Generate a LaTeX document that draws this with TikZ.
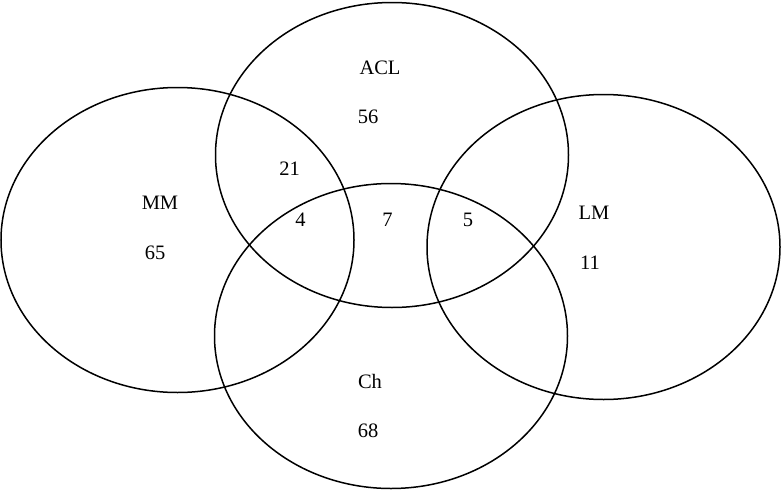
\documentclass[tikz,border=0pt]{standalone}
\usepackage{fontspec}
\setmainfont{Liberation Serif}
\begin{document}
\begin{tikzpicture}[x=1pt,y=-1pt,
  setring/.style={draw=black,line width=1.5pt},
  lbl/.style={inner sep=0pt,font=\fontsize{20.5}{24}\selectfont}]
\useasboundingbox (0,0) rectangle (782,490);
\draw[setring] (177.5,240) ellipse [x radius=176.5, y radius=152.5];
\draw[setring] (392,155) ellipse [x radius=176.5, y radius=152.5];
\draw[setring] (391,336) ellipse [x radius=176.5, y radius=152.5];
\draw[setring] (603.5,247) ellipse [x radius=176.5, y radius=152.5];
\node[lbl] (acl) at (380,68) {ACL};
\node[lbl] (n56) at (368,117) {56};
\node[lbl] (mm) at (160,203) {MM};
\node[lbl] (n65) at (155,253) {65};
\node[lbl] (n21) at (289.5,169) {21};
\node[lbl] (n4) at (300.5,220) {4};
\node[lbl] (n7) at (387.5,220) {7};
\node[lbl] (n5) at (468,220) {5};
\node[lbl] (lm) at (594,213) {LM};
\node[lbl] (n11) at (590,263) {11};
\node[lbl] (ch) at (370,381) {Ch};
\node[lbl] (n68) at (368,431) {68};
\end{tikzpicture}
\end{document}
